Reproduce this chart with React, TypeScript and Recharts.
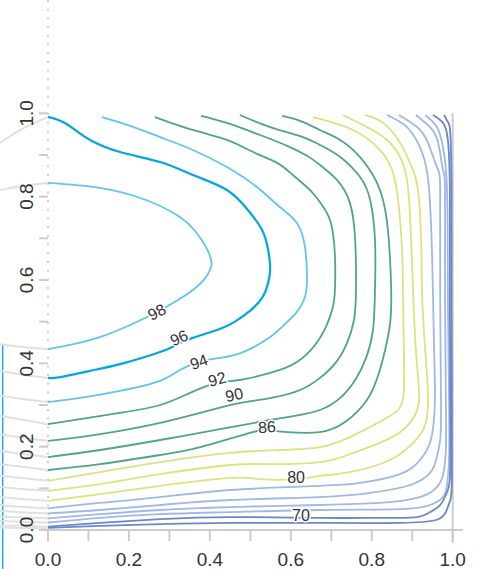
import React from 'react';
import { ComposedChart, Line, Scatter, XAxis, YAxis, ReferenceLine } from 'recharts';

type Pt = [number, number];

const xTicks = [0, 0.1, 0.2, 0.3, 0.4, 0.5, 0.6, 0.7, 0.8, 0.9, 1.0];
const yTicks = [0, 0.1, 0.2, 0.3, 0.4, 0.5, 0.6, 0.7, 0.8, 0.9, 1.0];

// contour paths (x, y)
const contour98: Pt[] = [[0, 0.833], [0.128, 0.821], [0.242, 0.792], [0.326, 0.751], [0.363, 0.718], [0.383, 0.691], [0.395, 0.67], [0.403, 0.648], [0.403, 0.631], [0.395, 0.614], [0.383, 0.598], [0.358, 0.576], [0.321, 0.552], [0.269, 0.523], [0.203, 0.492], [0.128, 0.463], [0.054, 0.444], [0, 0.434]];
const contour96: Pt[] = [[0, 0.991], [0.01, 0.989], [0.037, 0.979], [0.067, 0.96], [0.104, 0.936], [0.178, 0.907], [0.277, 0.883], [0.358, 0.852], [0.442, 0.816], [0.494, 0.768], [0.529, 0.72], [0.544, 0.672], [0.549, 0.629], [0.544, 0.593], [0.529, 0.557], [0.499, 0.526], [0.46, 0.499], [0.418, 0.48], [0.358, 0.461], [0.321, 0.446], [0.277, 0.427], [0.178, 0.398], [0.104, 0.382], [0.03, 0.367], [0, 0.365]];
const contour94: Pt[] = [[0.133, 0.991], [0.203, 0.97], [0.277, 0.943], [0.358, 0.912], [0.442, 0.871], [0.516, 0.823], [0.573, 0.775], [0.615, 0.737], [0.635, 0.679], [0.64, 0.607], [0.635, 0.56], [0.613, 0.521], [0.581, 0.49], [0.549, 0.463], [0.482, 0.427], [0.425, 0.413], [0.373, 0.403], [0.326, 0.384], [0.277, 0.358], [0.178, 0.334], [0.079, 0.317], [0, 0.307]];
const contour92: Pt[] = [[0.264, 0.991], [0.358, 0.96], [0.442, 0.936], [0.507, 0.907], [0.566, 0.881], [0.605, 0.852], [0.647, 0.816], [0.677, 0.78], [0.699, 0.737], [0.709, 0.658], [0.709, 0.576], [0.702, 0.528], [0.672, 0.461], [0.615, 0.403], [0.549, 0.377], [0.474, 0.36], [0.418, 0.353], [0.351, 0.329], [0.277, 0.3], [0.178, 0.281], [0.079, 0.266], [0, 0.254]];
const contour90: Pt[] = [[0.378, 0.994], [0.442, 0.977], [0.524, 0.948], [0.591, 0.922], [0.64, 0.898], [0.672, 0.876], [0.714, 0.84], [0.746, 0.785], [0.759, 0.696], [0.761, 0.576], [0.756, 0.504], [0.739, 0.449], [0.712, 0.403], [0.672, 0.365], [0.623, 0.336], [0.561, 0.319], [0.507, 0.31], [0.46, 0.302], [0.376, 0.281], [0.277, 0.257], [0.178, 0.238], [0.079, 0.223], [0, 0.214]];
const contour88: Pt[] = [[0.474, 0.996], [0.549, 0.967], [0.623, 0.945], [0.672, 0.924], [0.722, 0.895], [0.771, 0.847], [0.796, 0.792], [0.808, 0.696], [0.808, 0.576], [0.803, 0.48], [0.786, 0.413], [0.759, 0.36], [0.722, 0.317], [0.672, 0.288], [0.61, 0.274], [0.549, 0.264], [0.442, 0.245], [0.277, 0.216], [0.128, 0.192], [0, 0.175]];
const contour86: Pt[] = [[0.578, 0.994], [0.623, 0.982], [0.672, 0.96], [0.722, 0.936], [0.771, 0.895], [0.813, 0.833], [0.838, 0.737], [0.848, 0.576], [0.843, 0.48], [0.82, 0.384], [0.788, 0.312], [0.734, 0.259], [0.672, 0.235], [0.591, 0.235], [0.541, 0.24], [0.499, 0.233], [0.376, 0.199], [0.277, 0.18], [0.128, 0.158], [0, 0.144]];
const contour84: Pt[] = [[0.655, 0.991], [0.754, 0.96], [0.82, 0.912], [0.85, 0.864], [0.865, 0.792], [0.875, 0.672], [0.877, 0.576], [0.88, 0.384], [0.877, 0.312], [0.865, 0.288], [0.828, 0.264], [0.746, 0.223], [0.672, 0.199], [0.573, 0.192], [0.45, 0.185], [0.277, 0.163], [0.128, 0.139], [0, 0.118]];
const contour82: Pt[] = [[0.729, 0.996], [0.788, 0.967], [0.838, 0.936], [0.87, 0.895], [0.887, 0.84], [0.895, 0.744], [0.902, 0.576], [0.909, 0.432], [0.917, 0.324], [0.907, 0.276], [0.877, 0.24], [0.82, 0.209], [0.746, 0.182], [0.672, 0.163], [0.549, 0.158], [0.45, 0.156], [0.277, 0.134], [0.128, 0.11], [0, 0.094]];
const contour80: Pt[] = [[0.783, 0.996], [0.828, 0.977], [0.87, 0.929], [0.899, 0.871], [0.914, 0.816], [0.922, 0.696], [0.924, 0.576], [0.932, 0.432], [0.939, 0.324], [0.932, 0.252], [0.902, 0.209], [0.845, 0.168], [0.746, 0.139], [0.672, 0.13], [0.613, 0.122], [0.524, 0.122], [0.45, 0.125], [0.277, 0.106], [0.128, 0.086], [0, 0.07]];
const contour78: Pt[] = [[0.838, 0.996], [0.887, 0.967], [0.919, 0.919], [0.937, 0.857], [0.946, 0.744], [0.951, 0.576], [0.954, 0.432], [0.956, 0.312], [0.946, 0.216], [0.919, 0.168], [0.87, 0.134], [0.771, 0.113], [0.672, 0.106], [0.45, 0.096], [0.277, 0.079], [0.128, 0.065], [0, 0.052]];
const contour76: Pt[] = [[0.867, 0.996], [0.912, 0.967], [0.939, 0.929], [0.961, 0.871], [0.969, 0.816], [0.969, 0.576], [0.971, 0.312], [0.969, 0.216], [0.959, 0.168], [0.944, 0.137], [0.895, 0.108], [0.796, 0.089], [0.672, 0.079], [0.45, 0.072], [0.277, 0.06], [0.128, 0.048], [0, 0.04]];
const contour74: Pt[] = [[0.909, 0.996], [0.944, 0.967], [0.964, 0.929], [0.976, 0.864], [0.981, 0.816], [0.981, 0.576], [0.983, 0.312], [0.983, 0.192], [0.976, 0.132], [0.961, 0.103], [0.919, 0.079], [0.82, 0.065], [0.672, 0.06], [0.45, 0.055], [0.277, 0.048], [0.128, 0.038], [0, 0.028]];
const contour72: Pt[] = [[0.932, 0.996], [0.961, 0.967], [0.976, 0.919], [0.986, 0.816], [0.988, 0.576], [0.991, 0.312], [0.991, 0.168], [0.986, 0.108], [0.976, 0.079], [0.944, 0.06], [0.87, 0.05], [0.672, 0.048], [0.45, 0.043], [0.277, 0.038], [0.128, 0.029], [0, 0.018]];
const contour70: Pt[] = [[0.951, 0.996], [0.976, 0.977], [0.988, 0.936], [0.993, 0.816], [0.993, 0.576], [0.994, 0.312], [0.994, 0.144], [0.988, 0.096], [0.969, 0.06], [0.944, 0.043], [0.912, 0.031], [0.82, 0.029], [0.672, 0.029], [0.45, 0.031], [0.277, 0.026], [0.128, 0.017], [0, 0.008]];
const contour68: Pt[] = [[0.979, 0.996], [0.988, 0.979], [0.994, 0.953], [0.997, 0.816], [0.997, 0.576], [0.998, 0.312], [0.998, 0.12], [0.994, 0.072], [0.983, 0.043], [0.959, 0.024], [0.87, 0.017], [0.672, 0.017], [0.45, 0.017], [0.277, 0.014], [0.128, 0.01], [0, 0.005]];

const contourLevels = [98, 96, 94, 92, 90, 88, 86, 84, 82, 80, 78, 76, 74, 72, 70, 68];
const contourPaths = [contour98, contour96, contour94, contour92, contour90, contour88, contour86, contour84, contour82, contour80, contour78, contour76, contour74, contour72, contour70, contour68];

// grey pieces of the contours left of x = 0
const greyTails: Pt[][] = [
  [[-0.1186, 0.929], [-0.0593, 0.965], [0, 0.991]],
  [[-0.1186, 0.816], [-0.0593, 0.826], [0, 0.833]],
  [[-0.1186, 0.446], [-0.0593, 0.439], [0, 0.434]],
  [[-0.1186, 0.382], [-0.0593, 0.372], [0, 0.365]],
  [[-0.1186, 0.322], [-0.0593, 0.314], [0, 0.307]],
  [[-0.1186, 0.274], [-0.0593, 0.264], [0, 0.254]],
  [[-0.1186, 0.23], [-0.0593, 0.221], [0, 0.214]],
  [[-0.1186, 0.19], [-0.0593, 0.182], [0, 0.175]],
  [[-0.1186, 0.158], [-0.0593, 0.151], [0, 0.144]],
  [[-0.1186, 0.13], [-0.0593, 0.124], [0, 0.118]],
  [[-0.1186, 0.103], [-0.0593, 0.098], [0, 0.094]],
  [[-0.1186, 0.079], [-0.0593, 0.074], [0, 0.07]],
  [[-0.1186, 0.06], [-0.0593, 0.055], [0, 0.052]],
  [[-0.1186, 0.046], [-0.0593, 0.042], [0, 0.04]],
  [[-0.1186, 0.032], [-0.0593, 0.03], [0, 0.028]],
  [[-0.1186, 0.022], [-0.0593, 0.019], [0, 0.018]],
  [[-0.1186, 0.011], [-0.0593, 0.01], [0, 0.008]],
  [[-0.1186, 0.006], [-0.0593, 0.005], [0, 0.005]],
];

const contourLabels = [
  { text: '98', x: 0.269, y: 0.523 },
  { text: '96', x: 0.324, y: 0.461 },
  { text: '94', x: 0.373, y: 0.403 },
  { text: '92', x: 0.418, y: 0.362 },
  { text: '90', x: 0.46, y: 0.324 },
  { text: '86', x: 0.541, y: 0.247 },
  { text: '80', x: 0.613, y: 0.125 },
  { text: '70', x: 0.625, y: 0.034 },
];

const labelAngles: Record<string, number> = { '98': -28, '96': -24, '94': -20, '92': -16, '90': -13, '86': -4, '80': 0, '70': 0 };

const levelColor = (level: number) => {
  if (level === 96) return '#00a7e1';
  if (level >= 94) return '#5ec5f1';
  if (level >= 86) return '#4fa58b';
  if (level >= 80) return '#dae37c';
  if (level >= 72) return '#9fb8e6';
  return '#6b86c9';
};

const X_DOMAIN: [number, number] = [-0.1186, 1.0699];
const Y_DOMAIN: [number, number] = [0, 1.2719];

const toData = (pts: Pt[]) => pts.map(([x, y]) => ({ x, y }));

const XTick = (props: any) => {
  const { x, y, payload } = props;
  const v = payload.value;
  const major = Math.round(v * 10) % 2 === 0;
  return (
    <g>
      <line x1={x} x2={x} y1={y} y2={y + 11} stroke="#ccc" strokeWidth={2} />
      {major && (
        <text x={x} y={y + 36} textAnchor="middle" fontSize={19} fill="#333">
          {v.toFixed(1)}
        </text>
      )}
    </g>
  );
};

const YTick = (props: any) => {
  const { y, payload } = props;
  const v = payload.value;
  const major = Math.round(v * 10) % 2 === 0;
  return (
    <g>
      <line x1={39} x2={48} y1={y} y2={y} stroke="#ccc" strokeWidth={2} />
      {major && (
        <text x={33} y={y} transform={`rotate(-90 33 ${y})`} textAnchor="middle" fontSize={19} fill="#333">
          {v.toFixed(1)}
        </text>
      )}
    </g>
  );
};

const LabelShape = (props: any) => {
  const { cx, cy, payload } = props;
  const angle = labelAngles[payload.text] ?? 0;
  return (
    <text
      x={cx}
      y={cy}
      textAnchor="middle"
      dominantBaseline="central"
      transform={`rotate(${angle} ${cx} ${cy})`}
      fontSize={16}
      fill="#333"
      stroke="#fff"
      strokeWidth={3}
      strokeLinejoin="round"
      paintOrder="stroke"
    >
      {payload.text}
    </text>
  );
};

export default function App() {
  return (
    <div style={{ position: 'absolute', left: 0, top: 0, fontFamily: '"Liberation Sans", Arial, sans-serif' }}>
      <ComposedChart width={481} height={569} margin={{ top: 0, right: 0, bottom: 0, left: 0 }}>
        <XAxis
          type="number"
          dataKey="x"
          domain={X_DOMAIN}
          allowDataOverflow
          ticks={xTicks}
          interval={0}
          height={39}
          axisLine={false}
          tickLine={false}
          tickSize={0}
          tickMargin={0}
          tick={<XTick />}
        />
        <YAxis
          type="number"
          dataKey="y"
          domain={Y_DOMAIN}
          allowDataOverflow
          ticks={yTicks}
          interval={0}
          width={48}
          mirror
          axisLine={false}
          tickLine={false}
          tickSize={0}
          tickMargin={0}
          tick={<YTick />}
        />
        <ReferenceLine
          segment={[{ x: 0, y: 1.2719 }, { x: 0, y: -0.0432 }]}
          stroke="#ccc"
          strokeWidth={2}
          strokeDasharray="2 6.7"
          ifOverflow="visible"
        />
        <ReferenceLine segment={[{ x: 0, y: 0 }, { x: 1.0255, y: 0 }]} stroke="#ccc" strokeWidth={2} ifOverflow="visible" />
        <ReferenceLine segment={[{ x: 1, y: 1 }, { x: 1, y: -0.0312 }]} stroke="#ccc" strokeWidth={2} ifOverflow="visible" />
        <ReferenceLine segment={[{ x: -0.112, y: 0.444 }, { x: -0.112, y: -0.094 }]} stroke="#1ea9e6" strokeWidth={1.5} ifOverflow="visible" />
        {greyTails.map((pts, i) => (
          <Line
            key={`g${i}`}
            data={toData(pts)}
            dataKey="y"
            type="natural"
            stroke="#e0e0e0"
            strokeWidth={2}
            dot={false}
            activeDot={false}
            isAnimationActive={false}
          />
        ))}
        {contourPaths.map((pts, i) => (
          <Line
            key={`c${contourLevels[i]}`}
            data={toData(pts)}
            dataKey="y"
            type="natural"
            stroke={levelColor(contourLevels[i])}
            strokeWidth={contourLevels[i] === 96 ? 2.2 : 1.8}
            dot={false}
            activeDot={false}
            isAnimationActive={false}
          />
        ))}
        <Scatter data={contourLabels} dataKey="y" shape={LabelShape} isAnimationActive={false} />
      </ComposedChart>
    </div>
  );
}
